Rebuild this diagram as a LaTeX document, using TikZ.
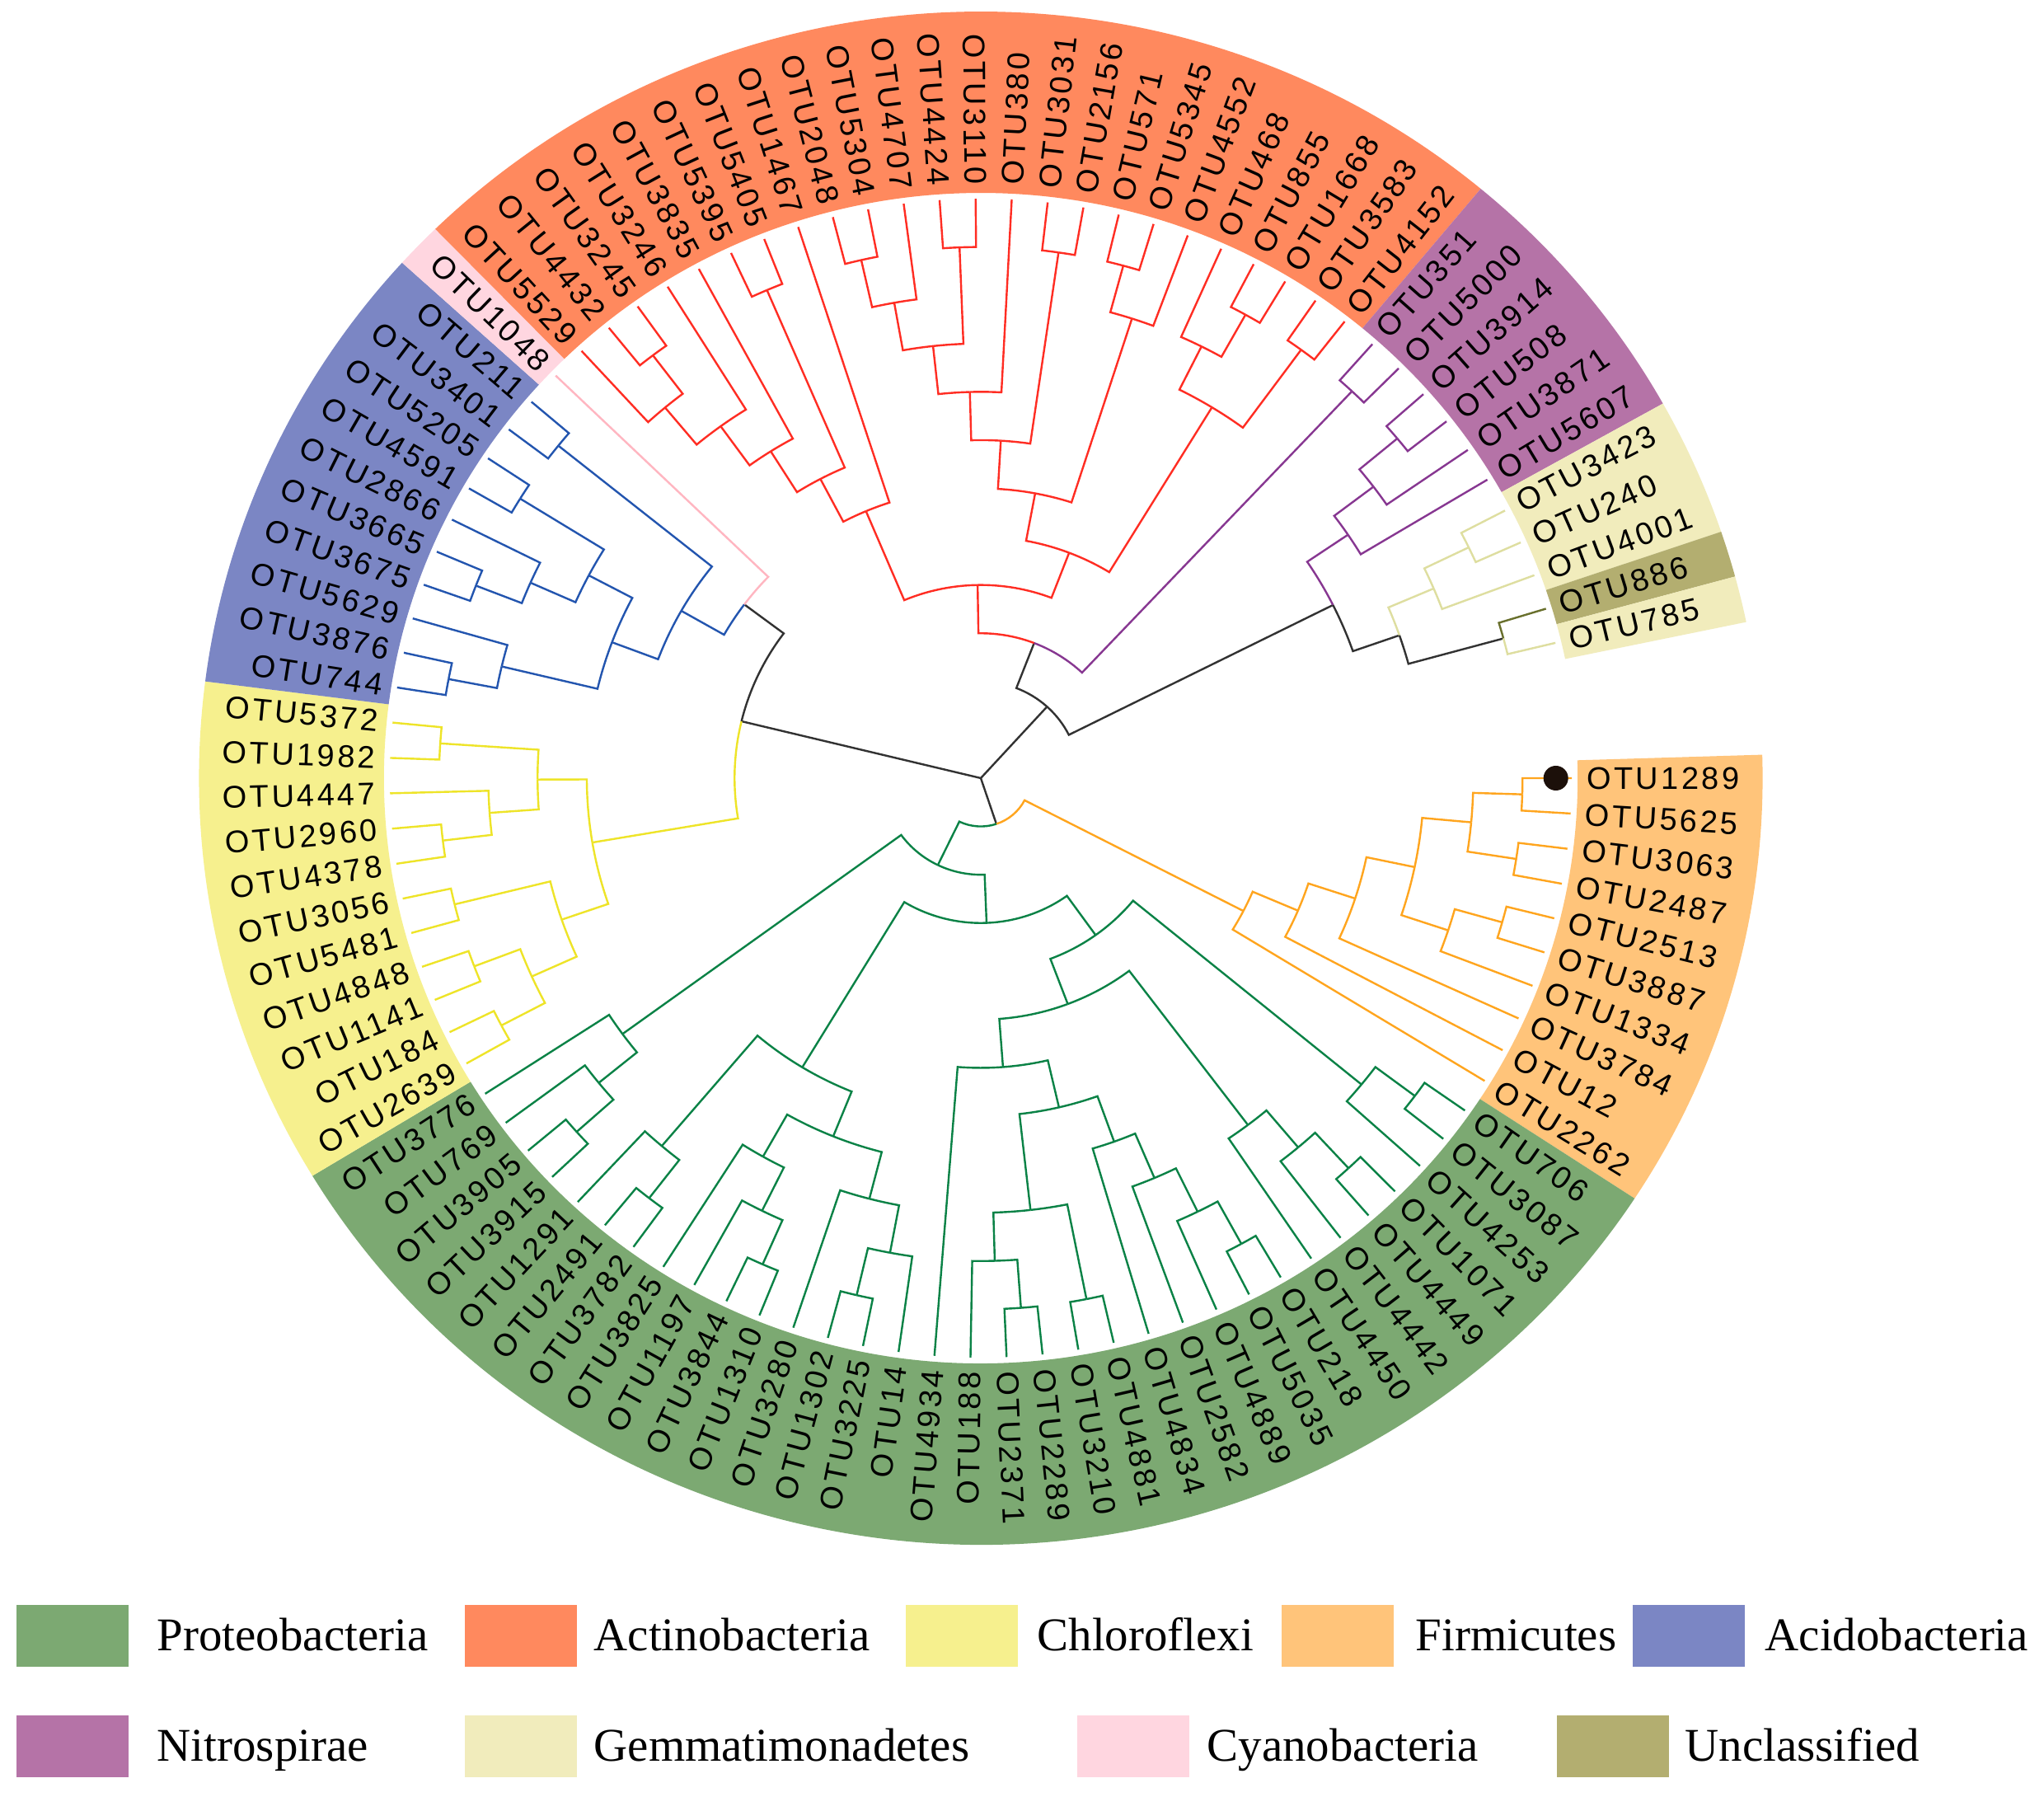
\documentclass[tikz,border=0pt]{standalone}
\usepackage{fontspec}
\setmainfont{Liberation Serif}
\newfontfamily\otufont[LetterSpace=9]{Liberation Sans}
% band colours
\definecolor{bProt}{RGB}{124,169,114}
\definecolor{bActi}{RGB}{255,137,94}
\definecolor{bChlo}{RGB}{246,240,142}
\definecolor{bFirm}{RGB}{255,196,122}
\definecolor{bAcid}{RGB}{123,134,196}
\definecolor{bNitr}{RGB}{181,115,167}
\definecolor{bGemm}{RGB}{241,236,188}
\definecolor{bCyan}{RGB}{255,214,224}
\definecolor{bUncl}{RGB}{179,174,112}
% line colours
\definecolor{lnRed}{RGB}{255,45,35}
\definecolor{lnBlue}{RGB}{35,85,175}
\definecolor{lnYellow}{RGB}{238,228,40}
\definecolor{lnGreen}{RGB}{10,130,70}
\definecolor{lnOrange}{RGB}{255,165,30}
\definecolor{lnPurple}{RGB}{135,55,145}
\definecolor{lnPale}{RGB}{222,222,160}
\definecolor{lnPink}{RGB}{255,182,193}
\definecolor{lnOlive}{RGB}{105,112,45}
\definecolor{lnBlack}{RGB}{50,50,50}
\definecolor{dotc}{RGB}{28,16,10}
\tikzset{
  lw/.style={line width=0.24mm},
  cX/.style={lw,draw=lnBlack}, cR/.style={lw,draw=lnRed}, cB/.style={lw,draw=lnBlue},
  cY/.style={lw,draw=lnYellow}, cG/.style={lw,draw=lnGreen}, cO/.style={lw,draw=lnOrange},
  cP/.style={lw,draw=lnPurple}, cE/.style={lw,draw=lnPale}, cK/.style={lw,draw=lnPink},
  cU/.style={lw,draw=lnOlive},
  lab/.style={font={\otufont\fontsize{10.8}{13}\selectfont},inner sep=0pt,text=black},
  legbox/.style={draw=none,inner sep=0pt,minimum width=13.6mm,minimum height=7.5mm},
  legtxt/.style={font={\fontsize{16.2}{19}\selectfont},inner sep=0pt,anchor=base west},
}
\def\U{5.858mm}
\newcommand{\TrEdge}[5]{\draw[#1] (#3:#2*\U) arc[start angle=#3,end angle=#5,radius=#2*\U] -- (#5:#4*\U);}
\newcommand{\TrCherry}[4]{\TrEdge{#1}{11}{#2}{12}{#3}\TrEdge{#1}{11}{#2}{12}{#4}}
\newcommand{\TrBand}[3]{\fill[#1] (#2:71mm) arc[start angle=#2,end angle=#3,radius=71mm] -- (#3:93mm) arc[start angle=#3,end angle=#2,radius=93mm] -- cycle;}
\newcommand{\TrLab}[2]{%
  \pgfmathsetmacro{\TrAng}{-3.5*#1}%
  \pgfmathsetmacro{\TrCos}{cos(\TrAng)}%
  \ifdim\TrCos pt<0pt
    \pgfmathsetmacro{\TrRot}{\TrAng+180}%
    \node[lab,anchor=east,rotate=\TrRot] (L#1) at (\TrAng:72mm) {#2};%
  \else
    \node[lab,anchor=west,rotate=\TrAng] (L#1) at (\TrAng:72mm) {#2};%
  \fi}
\begin{document}
\begin{tikzpicture}
\useasboundingbox (0,0) rectangle (248mm,217.9mm);
\fill[white] (0,0) rectangle (248mm,217.9mm);
\begin{scope}[shift={(119mm,123.5mm)},xscale=1.02]
% ---------- coloured bands ----------
\TrBand{bFirm}{1.75}{-33.25}
\TrBand{bProt}{-33.25}{-148.75}
\TrBand{bChlo}{-148.75}{-187.25}
\TrBand{bAcid}{-187.25}{-222.25}
\TrBand{bCyan}{-222.25}{-225.75}
\TrBand{bActi}{-225.75}{-309.75}
\TrBand{bNitr}{-309.75}{-330.75}
\TrBand{bGemm}{-330.75}{-341.25}
\TrBand{bUncl}{-341.25}{-344.75}
\TrBand{bGemm}{-344.75}{-348.25}
% ---------- root ----------
\coordinate (root) at (0,0);
\draw[cX] (root) -- (-312.269:2*\U);
\draw[cX] (root) -- (-193.62:5*\U);
\draw[cX] (root) -- (-71.57:1*\U);
% M
\TrEdge{cO}{1}{-71.57}{6}{-27.289}
\TrEdge{cG}{1}{-71.57}{2}{-115.852}
% X
\TrEdge{cX}{2}{-312.269}{3}{-291.163}
\TrEdge{cX}{2}{-312.269}{8}{-333.375}
% L
\TrEdge{cY}{5}{-193.62}{8}{-170.406}
\TrEdge{cX}{5}{-193.62}{6}{-216.836}
% Y
\TrEdge{cR}{3}{-291.163}{4}{-269.076}
\TrEdge{cP}{3}{-291.163}{11}{-313.25}
\TrCherry{cP}{-313.25}{-311.5}{-315}
% Z
\TrEdge{cP}{8}{-333.375}{9}{-325.9375}
\TrEdge{cX}{8}{-333.375}{9}{-340.8125}
\TrEdge{cP}{9}{-325.9375}{10}{-322.875}
\TrEdge{cP}{9}{-325.9375}{12}{-329}
\TrEdge{cP}{10}{-322.875}{11}{-320.25}
\TrEdge{cP}{10}{-322.875}{12}{-325.5}
\TrCherry{cP}{-320.25}{-318.5}{-322}
% W
\TrEdge{cE}{9}{-340.8125}{10}{-336.875}
\TrEdge{cX}{9}{-340.8125}{11}{-344.75}
\TrEdge{cU}{11}{-344.75}{12}{-343}
\TrEdge{cE}{11}{-344.75}{12}{-346.5}
\TrEdge{cE}{10}{-336.875}{11}{-334.25}
\TrEdge{cE}{10}{-336.875}{12}{-339.5}
\TrCherry{cE}{-334.25}{-332.5}{-336}
% Actinobacteria
\TrEdge{cR}{4}{-269.076}{6}{-247.133}
\TrEdge{cR}{4}{-269.076}{5}{-291.0195}
\TrEdge{cR}{6}{-247.133}{7}{-242.266}
\TrEdge{cR}{6}{-247.133}{12}{-252}
\TrEdge{cR}{7}{-242.266}{8}{-237.78}
\TrEdge{cR}{7}{-242.266}{11}{-246.75}
\TrCherry{cR}{-246.75}{-245}{-248.5}
\TrEdge{cR}{8}{-237.78}{9}{-234.0625}
\TrEdge{cR}{8}{-237.78}{12}{-241.5}
\TrEdge{cR}{9}{-234.0625}{10}{-230.125}
\TrEdge{cR}{9}{-234.0625}{12}{-238}
\TrEdge{cR}{10}{-230.125}{12}{-227.5}
\TrEdge{cR}{10}{-230.125}{11}{-232.75}
\TrCherry{cR}{-232.75}{-231}{-234.5}
\TrEdge{cR}{5}{-291.0195}{6}{-280.6016}
\TrEdge{cR}{5}{-291.0195}{9}{-301.4375}
\TrEdge{cR}{6}{-280.6016}{7}{-273.328}
\TrEdge{cR}{6}{-280.6016}{10}{-287.875}
\TrEdge{cR}{7}{-273.328}{8}{-268.406}
\TrEdge{cR}{7}{-273.328}{11}{-278.25}
\TrCherry{cR}{-278.25}{-276.5}{-280}
\TrEdge{cR}{8}{-268.406}{9}{-263.8125}
\TrEdge{cR}{8}{-268.406}{12}{-273}
\TrEdge{cR}{9}{-263.8125}{10}{-259.875}
\TrEdge{cR}{9}{-263.8125}{11}{-267.75}
\TrCherry{cR}{-267.75}{-266}{-269.5}
\TrEdge{cR}{10}{-259.875}{11}{-257.25}
\TrEdge{cR}{10}{-259.875}{12}{-262.5}
\TrCherry{cR}{-257.25}{-255.5}{-259}
\TrEdge{cR}{10}{-287.875}{11}{-285.25}
\TrEdge{cR}{10}{-287.875}{12}{-290.5}
\TrCherry{cR}{-285.25}{-283.5}{-287}
\TrEdge{cR}{9}{-301.4375}{10}{-296.625}
\TrEdge{cR}{9}{-301.4375}{11}{-306.25}
\TrCherry{cR}{-306.25}{-304.5}{-308}
\TrEdge{cR}{10}{-296.625}{12}{-294}
\TrEdge{cR}{10}{-296.625}{11}{-299.25}
\TrCherry{cR}{-299.25}{-297.5}{-301}
% Acidobacteria + Cyanobacteria
\TrEdge{cB}{6}{-216.836}{7}{-209.67}
\TrEdge{cK}{6}{-216.836}{12}{-224}
\TrEdge{cB}{7}{-209.67}{8}{-200.594}
\TrEdge{cB}{7}{-209.67}{11}{-218.75}
\TrCherry{cB}{-218.75}{-217}{-220.5}
\TrEdge{cB}{8}{-200.594}{10}{-193.375}
\TrEdge{cB}{8}{-200.594}{9}{-207.8125}
\TrEdge{cB}{10}{-193.375}{11}{-190.75}
\TrEdge{cB}{10}{-193.375}{12}{-196}
\TrCherry{cB}{-190.75}{-189}{-192.5}
\TrEdge{cB}{9}{-207.8125}{10}{-203.875}
\TrEdge{cB}{9}{-207.8125}{11}{-211.75}
\TrCherry{cB}{-211.75}{-210}{-213.5}
\TrEdge{cB}{10}{-203.875}{11}{-201.25}
\TrEdge{cB}{10}{-203.875}{12}{-206.5}
\TrCherry{cB}{-201.25}{-199.5}{-203}
% Chloroflexi
\TrEdge{cY}{8}{-170.406}{9}{-161}
\TrEdge{cY}{8}{-170.406}{9}{-179.8125}
\TrEdge{cY}{9}{-161}{10}{-155.75}
\TrEdge{cY}{9}{-161}{11}{-166.25}
\TrCherry{cY}{-166.25}{-164.5}{-168}
\TrEdge{cY}{10}{-155.75}{11}{-152.25}
\TrEdge{cY}{10}{-155.75}{11}{-159.25}
\TrCherry{cY}{-152.25}{-150.5}{-154}
\TrCherry{cY}{-159.25}{-157.5}{-161}
\TrEdge{cY}{9}{-179.8125}{10}{-175.875}
\TrEdge{cY}{9}{-179.8125}{11}{-183.75}
\TrCherry{cY}{-183.75}{-182}{-185.5}
\TrEdge{cY}{10}{-175.875}{11}{-173.25}
\TrEdge{cY}{10}{-175.875}{12}{-178.5}
\TrCherry{cY}{-173.25}{-171.5}{-175}
% Firmicutes
\TrEdge{cO}{6}{-27.289}{7}{-23.078}
\TrEdge{cO}{6}{-27.289}{12}{-31.5}
\TrEdge{cO}{7}{-23.078}{8}{-18.156}
\TrEdge{cO}{7}{-23.078}{12}{-28}
\TrEdge{cO}{8}{-18.156}{9}{-11.8125}
\TrEdge{cO}{8}{-18.156}{12}{-24.5}
\TrEdge{cO}{9}{-11.8125}{10}{-5.25}
\TrEdge{cO}{9}{-11.8125}{10}{-18.375}
\TrEdge{cO}{10}{-5.25}{11}{-1.75}
\TrEdge{cO}{10}{-5.25}{11}{-8.75}
\TrCherry{cO}{-1.75}{0}{-3.5}
\TrCherry{cO}{-8.75}{-7}{-10.5}
\TrEdge{cO}{10}{-18.375}{11}{-15.75}
\TrEdge{cO}{10}{-18.375}{12}{-21}
\TrCherry{cO}{-15.75}{-14}{-17.5}
% Proteobacteria
\TrEdge{cG}{2}{-115.852}{3}{-87.767}
\TrEdge{cG}{2}{-115.852}{9}{-143.9375}
\TrEdge{cG}{9}{-143.9375}{10}{-140.875}
\TrEdge{cG}{9}{-143.9375}{12}{-147}
\TrEdge{cG}{10}{-140.875}{11}{-138.25}
\TrEdge{cG}{10}{-140.875}{12}{-143.5}
\TrCherry{cG}{-138.25}{-136.5}{-140}
\TrEdge{cG}{3}{-87.767}{4}{-54.346}
\TrEdge{cG}{3}{-87.767}{7}{-121.1875}
\TrEdge{cG}{7}{-121.1875}{8}{-112}
\TrEdge{cG}{7}{-121.1875}{10}{-130.375}
\TrEdge{cG}{10}{-130.375}{11}{-127.75}
\TrEdge{cG}{10}{-130.375}{12}{-133}
\TrCherry{cG}{-127.75}{-126}{-129.5}
\TrEdge{cG}{8}{-112}{9}{-104.5625}
\TrEdge{cG}{8}{-112}{9}{-119.4375}
\TrEdge{cG}{9}{-104.5625}{10}{-100.625}
\TrEdge{cG}{9}{-104.5625}{12}{-108.5}
\TrEdge{cG}{10}{-100.625}{12}{-98}
\TrEdge{cG}{10}{-100.625}{11}{-103.25}
\TrCherry{cG}{-103.25}{-101.5}{-105}
\TrEdge{cG}{9}{-119.4375}{10}{-116.375}
\TrEdge{cG}{9}{-119.4375}{12}{-122.5}
\TrEdge{cG}{10}{-116.375}{11}{-113.75}
\TrEdge{cG}{10}{-116.375}{12}{-119}
\TrCherry{cG}{-113.75}{-112}{-115.5}
\TrEdge{cG}{4}{-54.346}{10}{-39.375}
\TrEdge{cG}{4}{-54.346}{5}{-69.316}
\TrEdge{cG}{10}{-39.375}{11}{-36.75}
\TrEdge{cG}{10}{-39.375}{12}{-42}
\TrCherry{cG}{-36.75}{-35}{-38.5}
\TrEdge{cG}{5}{-69.316}{9}{-52.9375}
\TrEdge{cG}{5}{-69.316}{6}{-85.695}
\TrEdge{cG}{9}{-52.9375}{10}{-49.875}
\TrEdge{cG}{9}{-52.9375}{12}{-56}
\TrEdge{cG}{10}{-49.875}{11}{-47.25}
\TrEdge{cG}{10}{-49.875}{12}{-52.5}
\TrCherry{cG}{-47.25}{-45.5}{-49}
\TrEdge{cG}{6}{-85.695}{7}{-76.8906}
\TrEdge{cG}{6}{-85.695}{12}{-94.5}
\TrEdge{cG}{7}{-76.8906}{8}{-70.21875}
\TrEdge{cG}{7}{-76.8906}{9}{-83.5625}
\TrEdge{cG}{8}{-70.21875}{9}{-66.9375}
\TrEdge{cG}{8}{-70.21875}{12}{-73.5}
\TrEdge{cG}{9}{-66.9375}{10}{-63.875}
\TrEdge{cG}{9}{-66.9375}{12}{-70}
\TrEdge{cG}{10}{-63.875}{11}{-61.25}
\TrEdge{cG}{10}{-63.875}{12}{-66.5}
\TrCherry{cG}{-61.25}{-59.5}{-63}
\TrEdge{cG}{9}{-83.5625}{11}{-78.75}
\TrEdge{cG}{9}{-83.5625}{10}{-88.375}
\TrCherry{cG}{-78.75}{-77}{-80.5}
\TrEdge{cG}{10}{-88.375}{11}{-85.75}
\TrEdge{cG}{10}{-88.375}{12}{-91}
\TrCherry{cG}{-85.75}{-84}{-87.5}
% ---------- marker ----------
\node[circle,fill=dotc,inner sep=0pt,minimum size=3mm] (dot) at (0:68.4mm) {};
% ---------- labels ----------
\TrLab{0}{OTU1289}\TrLab{1}{OTU5625}\TrLab{2}{OTU3063}\TrLab{3}{OTU2487}\TrLab{4}{OTU2513}
\TrLab{5}{OTU3887}\TrLab{6}{OTU1334}\TrLab{7}{OTU3784}\TrLab{8}{OTU12}\TrLab{9}{OTU2262}
\TrLab{10}{OTU706}\TrLab{11}{OTU3087}\TrLab{12}{OTU4253}\TrLab{13}{OTU1071}\TrLab{14}{OTU4449}
\TrLab{15}{OTU4442}\TrLab{16}{OTU4450}\TrLab{17}{OTU218}\TrLab{18}{OTU5035}\TrLab{19}{OTU4889}
\TrLab{20}{OTU2582}\TrLab{21}{OTU4834}\TrLab{22}{OTU4881}\TrLab{23}{OTU3210}\TrLab{24}{OTU2289}
\TrLab{25}{OTU2371}\TrLab{26}{OTU188}\TrLab{27}{OTU4934}\TrLab{28}{OTU14}\TrLab{29}{OTU3225}
\TrLab{30}{OTU1302}\TrLab{31}{OTU3280}\TrLab{32}{OTU1310}\TrLab{33}{OTU3844}\TrLab{34}{OTU1197}
\TrLab{35}{OTU3825}\TrLab{36}{OTU3782}\TrLab{37}{OTU2491}\TrLab{38}{OTU1291}\TrLab{39}{OTU3915}
\TrLab{40}{OTU3905}\TrLab{41}{OTU769}\TrLab{42}{OTU3776}
\TrLab{43}{OTU2639}\TrLab{44}{OTU184}\TrLab{45}{OTU1141}\TrLab{46}{OTU4848}\TrLab{47}{OTU5481}
\TrLab{48}{OTU3056}\TrLab{49}{OTU4378}\TrLab{50}{OTU2960}\TrLab{51}{OTU4447}\TrLab{52}{OTU1982}
\TrLab{53}{OTU5372}
\TrLab{54}{OTU744}\TrLab{55}{OTU3876}\TrLab{56}{OTU5629}\TrLab{57}{OTU3675}\TrLab{58}{OTU3665}
\TrLab{59}{OTU2866}\TrLab{60}{OTU4591}\TrLab{61}{OTU5205}\TrLab{62}{OTU3401}\TrLab{63}{OTU211}
\TrLab{64}{OTU1048}
\TrLab{65}{OTU5529}\TrLab{66}{OTU4432}\TrLab{67}{OTU3245}\TrLab{68}{OTU3246}\TrLab{69}{OTU3835}
\TrLab{70}{OTU5395}\TrLab{71}{OTU5405}\TrLab{72}{OTU1467}\TrLab{73}{OTU2048}\TrLab{74}{OTU5304}
\TrLab{75}{OTU4707}\TrLab{76}{OTU4424}\TrLab{77}{OTU3110}\TrLab{78}{OTU380}\TrLab{79}{OTU3031}
\TrLab{80}{OTU2156}\TrLab{81}{OTU571}\TrLab{82}{OTU5345}\TrLab{83}{OTU4552}\TrLab{84}{OTU468}
\TrLab{85}{OTU855}\TrLab{86}{OTU1668}\TrLab{87}{OTU3583}\TrLab{88}{OTU4152}
\TrLab{89}{OTU351}\TrLab{90}{OTU5000}\TrLab{91}{OTU3914}\TrLab{92}{OTU508}\TrLab{93}{OTU3871}
\TrLab{94}{OTU5607}
\TrLab{95}{OTU3423}\TrLab{96}{OTU240}\TrLab{97}{OTU4001}\TrLab{98}{OTU886}\TrLab{99}{OTU785}
\end{scope}
% ---------- legend ----------
\node[legbox,fill=bProt] (kb1) at (8.8mm,19.5mm) {};
\node[legtxt] (kt1) at (19.0mm,17.7mm) {Proteobacteria};
\node[legbox,fill=bActi] (kb2) at (63.2mm,19.5mm) {};
\node[legtxt] (kt2) at (72.0mm,17.7mm) {Actinobacteria};
\node[legbox,fill=bChlo] (kb3) at (116.7mm,19.5mm) {};
\node[legtxt] (kt3) at (125.8mm,17.7mm) {Chloroflexi};
\node[legbox,fill=bFirm] (kb4) at (162.25mm,19.5mm) {};
\node[legtxt] (kt4) at (171.7mm,17.7mm) {Firmicutes};
\node[legbox,fill=bAcid] (kb5) at (204.85mm,19.5mm) {};
\node[legtxt] (kt5) at (214.1mm,17.7mm) {Acidobacteria};
\node[legbox,fill=bNitr] (kb6) at (8.8mm,6.05mm) {};
\node[legtxt] (kt6) at (19.0mm,4.25mm) {Nitrospirae};
\node[legbox,fill=bGemm] (kb7) at (63.2mm,6.05mm) {};
\node[legtxt] (kt7) at (72.0mm,4.25mm) {Gemmatimonadetes};
\node[legbox,fill=bCyan] (kb8) at (137.5mm,6.05mm) {};
\node[legtxt] (kt8) at (146.4mm,4.25mm) {Cyanobacteria};
\node[legbox,fill=bUncl] (kb9) at (195.65mm,6.05mm) {};
\node[legtxt] (kt9) at (204.4mm,4.25mm) {Unclassified};
\end{tikzpicture}
\end{document}
